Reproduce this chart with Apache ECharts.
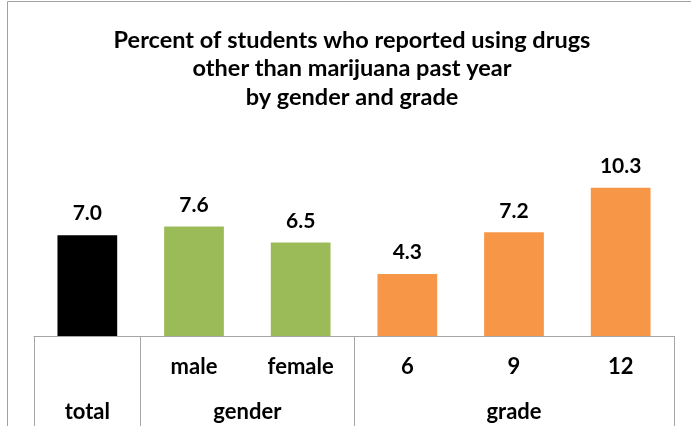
<!DOCTYPE html>
<html>
<head>
<meta charset="utf-8">
<script src="https://cdn.jsdelivr.net/npm/echarts@6/dist/echarts.min.js"></script>
<style>
html,body{margin:0;padding:0;background:#fff;}
#chart{width:691px;height:426px;}
</style>
</head>
<body>
<div id="chart"></div>
<script>
var categories = ['total', 'male', 'female', '6', '9', '12'];
var values = [7.0, 7.6, 6.5, 4.3, 7.2, 10.3];
var groups = ['total', 'gender', 'gender', 'grade', 'grade', 'grade'];
var groupColors = {total: '#000000', gender: '#9BBB59', grade: '#F79646'};
var titleText = 'Percent of students who reported using drugs\nother than marijuana past year\nby gender and grade';

// derive group spans from groups array
var groupNames = [], groupStarts = [], groupEnds = [];
groups.forEach(function (g, i) {
  if (i === 0 || groups[i - 1] !== g) { groupNames.push(g); groupStarts.push(i); groupEnds.push(i + 1); }
  else { groupEnds[groupEnds.length - 1] = i + 1; }
});
var groupCenters = groupNames.map(function (g, k) { return (groupStarts[k] + groupEnds[k]) / 2; });
var groupBounds = [0].concat(groupEnds);
var groupSize = {};
groups.forEach(function (g) { groupSize[g] = (groupSize[g] || 0) + 1; });

var FONT = 'Lato';
var lineColor = '#a6a6a6';

var chart = echarts.init(document.getElementById('chart'));
chart.setOption({
  animation: false,
  backgroundColor: '#fff',
  title: {
    text: titleText,
    left: 347,
    textAlign: 'center',
    top: 21,
    textStyle: {fontFamily: FONT, fontWeight: 'bold', fontSize: 23.5, lineHeight: 28.5, color: '#000'}
  },
  graphic: [{
    type: 'rect', silent: true,
    shape: {x: 7.5, y: 1.5, width: 720, height: 500},
    style: {fill: null, stroke: '#a0a0a0', lineWidth: 1}
  }],
  grid: {left: 34, right: 17, top: 163.2, bottom: 90, containLabel: false},
  xAxis: [{
    type: 'category',
    data: categories,
    axisLine: {show: true, lineStyle: {color: lineColor, width: 1}},
    axisTick: {show: false},
    axisLabel: {
      margin: 20, interval: 0,
      fontFamily: FONT, fontWeight: 'bold', fontSize: 22, color: '#000',
      formatter: function (v, i) { return groupSize[groups[i]] > 1 ? v : ''; }
    }
  }, {
    type: 'value',
    position: 'bottom',
    min: 0, max: categories.length,
    splitLine: {show: false},
    axisLine: {show: false},
    axisTick: {show: true, inside: false, length: 95, customValues: groupBounds, lineStyle: {color: lineColor, width: 1}},
    axisLabel: {
      customValues: groupCenters, margin: 65,
      fontFamily: FONT, fontWeight: 'bold', fontSize: 22, color: '#000',
      formatter: function (v) { var k = groupCenters.indexOf(v); return k >= 0 ? groupNames[k] : ''; }
    }
  }],
  yAxis: {
    type: 'value', min: 0, max: 12, show: false,
    splitLine: {show: false}
  },
  series: [{
    type: 'bar',
    xAxisIndex: 0,
    barWidth: '56%',
    data: values.map(function (v, i) { return {value: v, itemStyle: {color: groupColors[groups[i]]}}; }),
    label: {
      show: true, position: 'top', distance: 11,
      fontFamily: FONT, fontWeight: 'bold', fontSize: 21, color: '#000',
      formatter: function (p) { return p.value.toFixed(1); }
    }
  }]
});
</script>
</body>
</html>
